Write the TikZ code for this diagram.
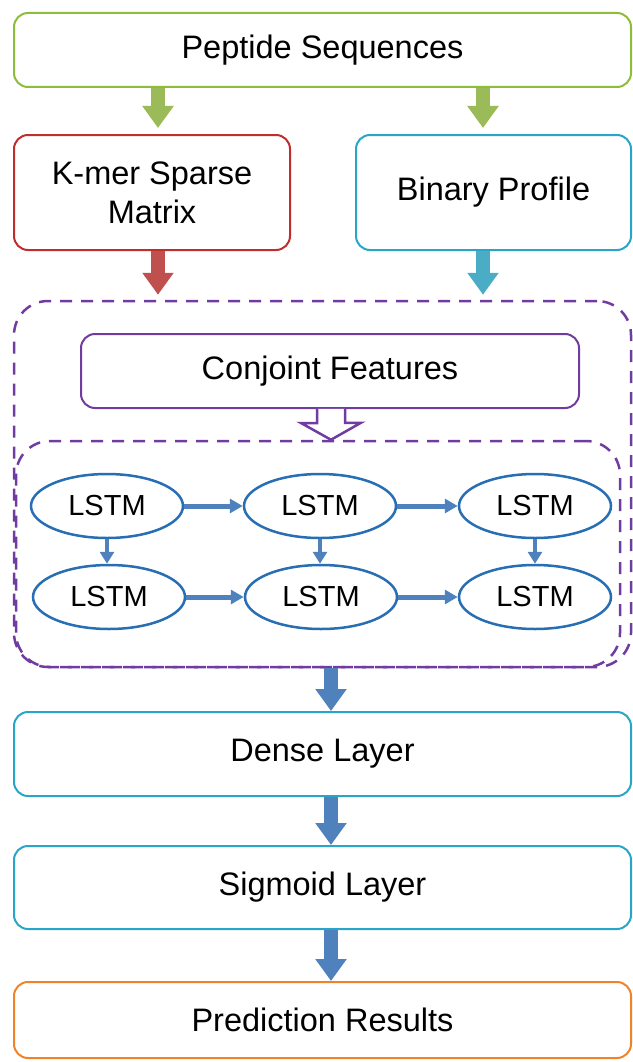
\documentclass[tikz,border=0pt]{standalone}
\usepackage{fontspec}
\setmainfont{Liberation Sans}
\usetikzlibrary{arrows.meta,calc,shapes.geometric}
\definecolor{cgreen}{RGB}{140,190,60}
\definecolor{cgreenA}{RGB}{155,187,89}
\definecolor{cred}{RGB}{192,45,45}
\definecolor{credA}{RGB}{192,80,77}
\definecolor{ccyan}{RGB}{40,165,200}
\definecolor{ccyanA}{RGB}{75,172,198}
\definecolor{cpurple}{RGB}{112,60,160}
\definecolor{cblue}{RGB}{40,110,180}
\definecolor{cblueA}{RGB}{79,129,189}
\definecolor{corange}{RGB}{240,130,40}
\tikzset{
  box/.style={draw, rounded corners=14pt, line width=2pt, fill=white, align=center,
    font=\fontsize{32.5}{39}\selectfont, inner sep=0pt},
  dbox/.style={draw=cpurple, rounded corners=34pt, line width=2.5pt,
    dash pattern=on 12pt off 9pt, inner sep=0pt},
  lstm/.style={draw=cblue, ellipse, line width=2.5pt, minimum width=152pt,
    minimum height=64pt, inner sep=0pt, font=\fontsize{29}{32}\selectfont},
  blk/.style={line width=14pt, -{Triangle[width=30pt,length=22pt]}},
  hlink/.style={draw=cblueA, line width=5pt, -{Triangle[width=14pt,length=13pt]}},
  vlink/.style={draw=cblueA, line width=4pt, -{Triangle[width=14pt,length=12pt]}},
}
\begin{document}
\begin{tikzpicture}[x=1pt,y=-1pt]
\useasboundingbox (0,0) rectangle (632,1062);
% main boxes
\node[box, draw=cgreen, minimum width=617pt, minimum height=74pt] (pep) at (322.5,50) {Peptide Sequences};
\node[box, draw=cred, minimum width=276pt, minimum height=115pt] (kmer) at (152,192.5) {K-mer Sparse\\Matrix};
\node[box, draw=ccyan, minimum width=275pt, minimum height=115pt] (bin) at (493.5,192.5) {Binary Profile};
% dashed containers
\node[dbox, minimum width=617pt, minimum height=366pt] (outer) at (322.5,484) {};
\node[dbox, minimum width=604pt, minimum height=226pt] (inner) at (318,554) {};
\node[box, draw=cpurple, minimum width=498pt, minimum height=74pt] (conj) at (330,371) {Conjoint Features};
% LSTMs
\node[lstm] (a1) at (107,506) {LSTM};
\node[lstm] (a2) at (320,506) {LSTM};
\node[lstm] (a3) at (535,506) {LSTM};
\node[lstm] (b1) at (109,597) {LSTM};
\node[lstm] (b2) at (321,597) {LSTM};
\node[lstm] (b3) at (535,597) {LSTM};
% lower boxes
\node[box, draw=ccyan, minimum width=617pt, minimum height=84pt] (dense) at (322.5,754) {Dense Layer};
\node[box, draw=ccyan, minimum width=617pt, minimum height=83pt] (sig) at (322.5,887.5) {Sigmoid Layer};
\node[box, draw=corange, minimum width=617pt, minimum height=76pt] (pred) at (322.5,1020) {Prediction Results};
% coordinates for arrow columns
\coordinate (xl) at (158,0);
\coordinate (xr) at (483,0);
\coordinate (xm) at (331,0);
% block arrows
\draw[blk, draw=cgreenA, fill=cgreenA, shorten >=6pt] (pep.south -| xl) -- (kmer.north -| xl);
\draw[blk, draw=cgreenA, fill=cgreenA, shorten >=6pt] (pep.south -| xr) -- (bin.north -| xr);
\draw[blk, draw=credA, fill=credA, shorten >=5pt] (kmer.south -| xl) -- (outer.north -| xl);
\draw[blk, draw=ccyanA, fill=ccyanA, shorten >=5pt] (bin.south -| xr) -- (outer.north -| xr);
\draw[blk, draw=cblueA, fill=cblueA] (inner.south -| xm) -- (dense.north -| xm);
\draw[blk, draw=cblueA, fill=cblueA] (dense.south -| xm) -- (sig.north -| xm);
\draw[blk, draw=cblueA, fill=cblueA] (sig.south -| xm) -- (pred.north -| xm);
% hollow arrow
\draw[draw=cpurple, line width=2.5pt, fill=white, line join=miter]
  ($(conj.south -| xm)+(-14,0)$) -- ++(0,14) -- ++(-16,0) -- (inner.north -| xm)
  -- ++(30,-17) -- ++(-16,0) -- ++(0,-14);
% LSTM links
\draw[hlink] (a1) -- (a2);
\draw[hlink] (a2) -- (a3);
\draw[hlink] (b1) -- (b2);
\draw[hlink] (b2) -- (b3);
\draw[vlink] (a1.south) -- (a1.south |- b1.north);
\draw[vlink] (a2.south) -- (a2.south |- b2.north);
\draw[vlink] (a3.south) -- (a3.south |- b3.north);
\end{tikzpicture}
\end{document}
